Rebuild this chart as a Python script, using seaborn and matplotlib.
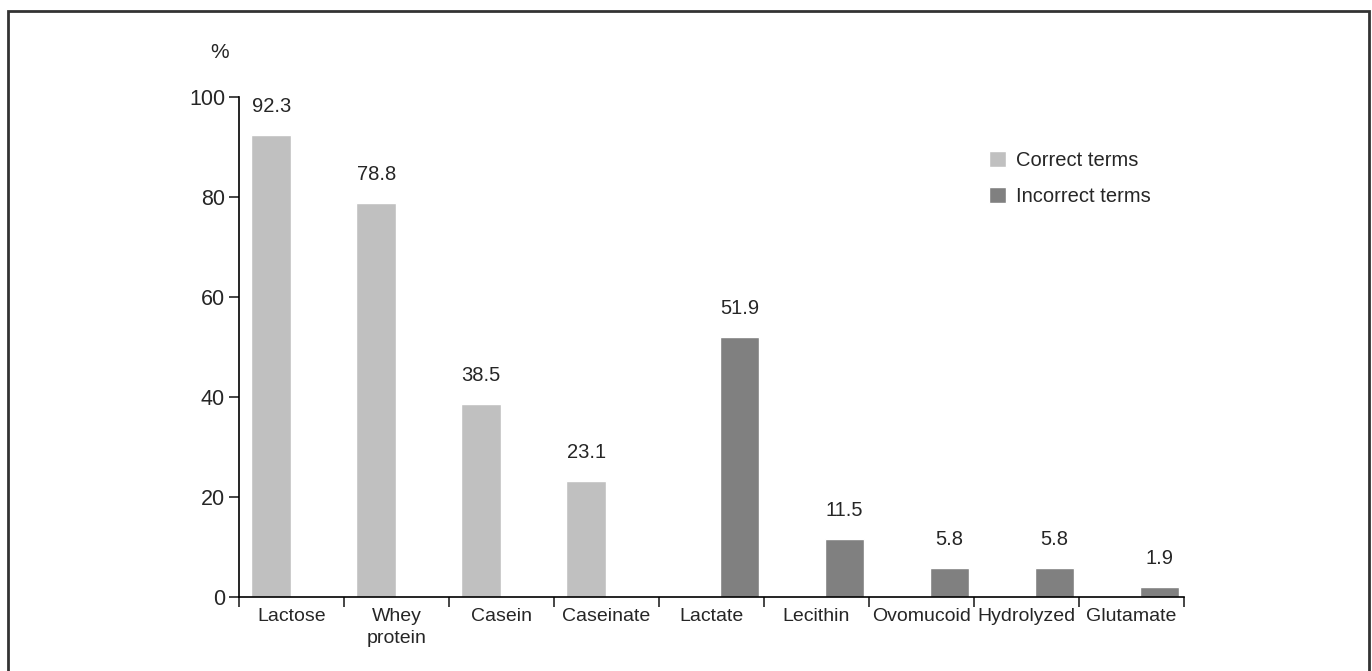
import seaborn as sns
import matplotlib.pyplot as plt
import pandas as pd
import numpy as np
from matplotlib.patches import Rectangle

# data
terms = ['Lactose', 'Whey\nprotein', 'Casein', 'Caseinate', 'Lactate',
         'Lecithin', 'Ovomucoid', 'Hydrolyzed', 'Glutamate']
percent = [92.3, 78.8, 38.5, 23.1, 51.9, 11.5, 5.8, 5.8, 1.9]
groups = ['Correct terms'] * 4 + ['Incorrect terms'] * 5
group_colors = {'Correct terms': '#c0c0c0', 'Incorrect terms': '#808080'}
yticks = [0, 20, 40, 60, 80, 100]

df = pd.DataFrame({'term': terms, 'pct': percent, 'group': groups})

sns.set_style('white')
plt.rcParams['font.family'] = ['Liberation Sans', 'DejaVu Sans']

fig = plt.figure(figsize=(13.72, 6.71), dpi=100)
ax = fig.add_axes([0.1742, 0.1103, 0.6888, 0.7452])

sns.barplot(data=df, x='term', y='pct', hue='group', order=terms,
            hue_order=list(group_colors), palette=group_colors,
            width=0.92, gap=0.18, dodge=True, saturation=1, ax=ax)

for c in ax.containers:
    ax.bar_label(c, fmt='%.1f', padding=14, fontsize=14.5)

# category slots sit a little left of the dodge centre in the original
shift = -0.036
ax.set_xlim(-0.5 + shift, 8.5 + shift)
ax.set_xticks(np.arange(len(terms)) + shift, labels=terms)
ax.set_xticks(np.arange(-0.5, len(terms), 1) + shift, minor=True)
ax.set_ylim(0, 100)
ax.set_yticks(yticks)
ax.set_xlabel('')
ax.set_ylabel('')
ax.tick_params(axis='x', which='major', length=0, pad=8, labelsize=14)
ax.tick_params(axis='x', which='minor', length=7, width=1.2, direction='out',
               bottom=True)
ax.tick_params(axis='y', length=7, width=1.2, direction='out', left=True,
               labelsize=15.5, pad=3)
for lbl in ax.get_xticklabels():
    lbl.set_linespacing(1.4)
sns.despine(ax=ax)
for s in ['left', 'bottom']:
    ax.spines[s].set_color('black')
    ax.spines[s].set_linewidth(1.2)

ax.legend(loc='upper left', bbox_to_anchor=(0.7075, 0.802),
          bbox_transform=fig.transFigure, frameon=False, fontsize=14.5,
          handlelength=0.85, handleheight=0.85, handletextpad=0.5,
          labelspacing=0.85)

fig.text(220 / 1372, 1 - 53 / 671, '%', ha='center', va='center', fontsize=15)

# frame around the whole figure
fig.patches.append(Rectangle((8 / 1372, -0.02), 1361 / 1372, 1.02 - 11 / 671,
                             transform=fig.transFigure, fill=False,
                             edgecolor='#333333', linewidth=2))

plt.savefig('out.png', dpi=100)
